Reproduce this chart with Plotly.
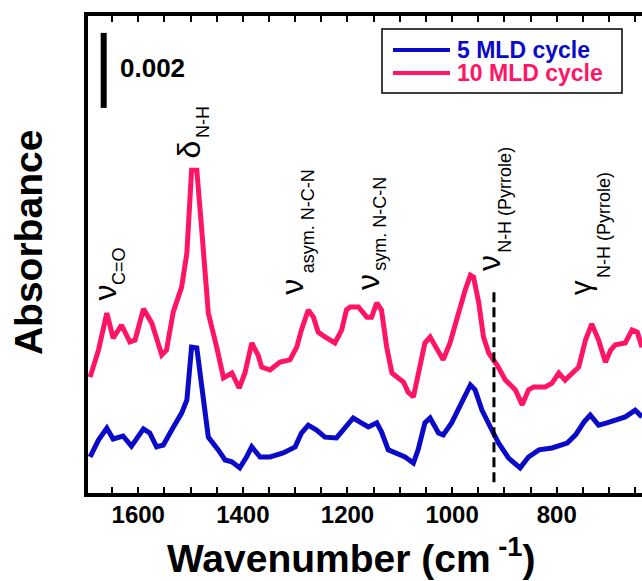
import plotly.graph_objects as go

# ---- data ----
wn_10 = [1692, 1676, 1660, 1648, 1632, 1616, 1606, 1590, 1574, 1555, 1546, 1533, 1517, 1507,
         1498, 1488, 1479, 1466, 1450, 1437, 1421, 1407, 1396, 1383, 1371, 1364, 1348, 1329,
         1310, 1297, 1288, 1275, 1265, 1256, 1243, 1224, 1211, 1202, 1195, 1179, 1163, 1154,
         1144, 1135, 1125, 1115, 1093, 1084, 1074, 1065, 1052, 1042, 1026, 1017, 1004, 993,
         975, 965, 959, 949, 940, 930, 914, 898, 879, 866, 854, 844, 822, 809, 796, 784, 771,
         758, 745, 733, 720, 707, 697, 688, 669, 656, 646, 637]
abs_10 = [0.00309, 0.00381, 0.00480, 0.00413, 0.00448, 0.00403, 0.00408, 0.00491, 0.00453,
          0.00368, 0.00381, 0.00483, 0.00549, 0.00640, 0.00861, 0.00861, 0.00709, 0.00480,
          0.00389, 0.00307, 0.00320, 0.00280, 0.00320, 0.00400, 0.00368, 0.00336, 0.00328,
          0.00349, 0.00355, 0.00389, 0.00435, 0.00488, 0.00469, 0.00429, 0.00416, 0.00400,
          0.00435, 0.00488, 0.00496, 0.00496, 0.00469, 0.00469, 0.00507, 0.00488, 0.00389,
          0.00320, 0.00296, 0.00269, 0.00256, 0.00320, 0.00400, 0.00416, 0.00373, 0.00355,
          0.00400, 0.00456, 0.00541, 0.00581, 0.00576, 0.00507, 0.00416, 0.00373, 0.00341,
          0.00301, 0.00275, 0.00235, 0.00275, 0.00283, 0.00283, 0.00293, 0.00320, 0.00301,
          0.00320, 0.00336, 0.00408, 0.00451, 0.00408, 0.00349, 0.00381, 0.00395, 0.00400,
          0.00435, 0.00429, 0.00389]

wn_5 = [1692, 1676, 1660, 1648, 1629, 1613, 1590, 1578, 1565, 1552, 1536, 1517, 1507, 1498,
        1488, 1476, 1466, 1447, 1434, 1421, 1406, 1393, 1383, 1367, 1348, 1323, 1300, 1288,
        1275, 1259, 1243, 1221, 1205, 1189, 1176, 1160, 1144, 1135, 1122, 1106, 1090, 1074,
        1065, 1052, 1042, 1026, 1017, 1001, 985, 965, 956, 943, 924, 911, 892, 870, 854, 834,
        809, 796, 780, 764, 748, 736, 720, 704, 685, 669, 650, 637]
abs_5 = [0.00096, 0.00141, 0.00173, 0.00144, 0.00152, 0.00125, 0.00171, 0.00160, 0.00123,
         0.00128, 0.00168, 0.00213, 0.00248, 0.00389, 0.00387, 0.00267, 0.00149, 0.00115,
         0.00088, 0.00083, 0.00067, 0.00096, 0.00123, 0.00096, 0.00096, 0.00107, 0.00123,
         0.00160, 0.00181, 0.00168, 0.00149, 0.00147, 0.00176, 0.00200, 0.00189, 0.00176,
         0.00187, 0.00163, 0.00115, 0.00107, 0.00096, 0.00080, 0.00115, 0.00187, 0.00200,
         0.00160, 0.00155, 0.00187, 0.00235, 0.00288, 0.00275, 0.00221, 0.00168, 0.00133,
         0.00093, 0.00067, 0.00096, 0.00115, 0.00120, 0.00125, 0.00133, 0.00155, 0.00189,
         0.00208, 0.00181, 0.00187, 0.00195, 0.00203, 0.00221, 0.00203]

series_names = ["5 MLD cycle", "10 MLD cycle"]
series_colors = ["#0a0ac8", "#ff1466"]

major_ticks = [1600, 1400, 1200, 1000, 800]
tick_labels = ["1600", "1400", "1200", "1000", "800"]
minor_ticks = [1650, 1550, 1500, 1450, 1350, 1300, 1250, 1150, 1100, 1050,
               950, 900, 850, 750, 700, 650]

# band labels: symbol, symbol size, symbol (wn, abs), subscript, subscript (wn, abs)
band_labels = [
    ("ν", 32, 1662.7, 0.00509, "C=O", 1636.9, 0.00549),
    ("δ", 32, 1502.1, 0.00888, "N-H", 1476.3, 0.00941),
    ("ν", 32, 1306.1, 0.00523, "asym. N-C-N", 1275.4, 0.00581),
    ("ν", 32, 1160.8, 0.00536, "sym. N-C-N", 1137.9, 0.00587),
    ("ν", 32, 929.4, 0.00587, "N-H (Pyrrole)", 898.9, 0.00635),
    ("γ", 29, 752.6, 0.00523, "N-H (Pyrrole)", 709.6, 0.00568),
]
dashed_wn = 920
dashed_span = [0.00029, 0.00541]
scale_bar_wn = 1666
scale_bar_span = [0.01027, 0.01227]
scale_bar_text = "0.002"

FONT = "Liberation Sans, Arial, sans-serif"

fig = go.Figure()
for wn, ab, nm, col in [(wn_5, abs_5, series_names[0], series_colors[0]),
                        (wn_10, abs_10, series_names[1], series_colors[1])]:
    fig.add_trace(go.Scatter(x=wn, y=ab, mode="lines", name=nm, showlegend=False,
                             line=dict(color=col, width=5)))

# dashed marker line
fig.add_shape(type="line", xref="x", yref="y", x0=dashed_wn, x1=dashed_wn,
              y0=dashed_span[0], y1=dashed_span[1],
              line=dict(color="black", width=3, dash="10px,5px"))
# scale bar
fig.add_shape(type="line", xref="x", yref="y", x0=scale_bar_wn, x1=scale_bar_wn,
              y0=scale_bar_span[0], y1=scale_bar_span[1],
              line=dict(color="black", width=6))
fig.add_annotation(x=1572, y=0.01133, xref="x", yref="y",
                   text=scale_bar_text, showarrow=False, xanchor="center",
                   font=dict(family=FONT, size=26, color="black", weight="bold"))

for sym, ssz, sx, sy, sub, bx, by in band_labels:
    fig.add_annotation(x=sx, y=sy, xref="x", yref="y", showarrow=False, textangle=-90,
                       xanchor="center", yanchor="bottom", text=sym,
                       font=dict(family=FONT, size=ssz, color="black"))
    fig.add_annotation(x=bx, y=by, xref="x", yref="y", showarrow=False, textangle=-90,
                       xanchor="center", yanchor="bottom", text=sub,
                       font=dict(family=FONT, size=18, color="black"))

# legend (framed box with line samples)
leg_x0, leg_x1, leg_y0, leg_y1 = 0.5307, 0.9639, 0.8386, 0.9727
leg_rows = [0.9287, 0.8805]
fig.add_shape(type="rect", xref="paper", yref="paper", x0=leg_x0, x1=leg_x1,
              y0=leg_y0, y1=leg_y1, line=dict(color="black", width=1.5),
              fillcolor="white", layer="above")
for nm, col, ry in zip(series_names, series_colors, leg_rows):
    fig.add_shape(type="line", xref="paper", yref="paper", x0=0.5505, x1=0.6534,
                  y0=ry, y1=ry, line=dict(color=col, width=4), layer="above")
    fig.add_annotation(x=0.6625, y=ry, xref="paper", yref="paper", showarrow=False,
                       xanchor="left", yanchor="middle", text=nm,
                       font=dict(family=FONT, size=23, color=col, weight="bold"))

# axis titles
fig.add_annotation(x=0.4765, y=-0.131, xref="paper", yref="paper", showarrow=False,
                   text="Wavenumber (cm<sup> -1</sup>)", xanchor="center", yanchor="middle",
                   font=dict(family=FONT, size=39, color="black", weight="bold"))
fig.add_annotation(x=-0.1083, y=0.524, xref="paper", yref="paper", showarrow=False,
                   text="Absorbance", textangle=-90, xanchor="center", yanchor="middle",
                   font=dict(family=FONT, size=39, color="black", weight="bold"))

fig.update_layout(
    width=642, height=581,
    margin=dict(l=88, r=0, t=16, b=88),
    paper_bgcolor="white", plot_bgcolor="white",
    showlegend=False,
)
fig.update_xaxes(range=[1696, 637], showgrid=False, zeroline=False,
                 showline=True, linecolor="black", linewidth=4, mirror="ticks",
                 ticks="inside", ticklen=6, tickwidth=2, tickcolor="black",
                 tickmode="array", tickvals=major_ticks, ticktext=tick_labels,
                 minor=dict(tickmode="array", tickvals=minor_ticks, ticks="inside",
                            ticklen=6, tickwidth=2, tickcolor="black", showgrid=False),
                 tickfont=dict(family=FONT, size=24, color="black", weight="bold"),
                 ticklabelstandoff=-3)
fig.update_yaxes(range=[0, 0.01272], showgrid=False, zeroline=False,
                 showline=True, linecolor="black", linewidth=4, mirror=False,
                 showticklabels=False, ticks="")

fig.write_html("out.html",
               config={"displayModeBar": False},
               post_script="document.body.style.margin='0';"
                           "document.body.style.overflow='hidden';")
